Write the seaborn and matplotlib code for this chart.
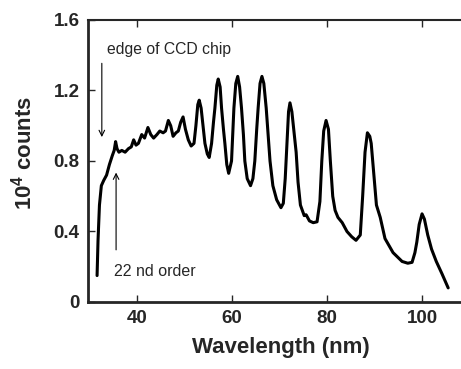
import numpy as np
import pandas as pd
import matplotlib
matplotlib.use("Agg")
import matplotlib.pyplot as plt
import seaborn as sns

# traced spectrum (wavelength in nm, counts in units of 10^4)
wavelength = [
    31.6, 31.8, 32.1, 32.5, 33.0, 33.6, 34.2, 34.8, 35.2, 35.5, 35.8, 36.2,
    36.8, 37.5, 38.2, 38.8, 39.3, 39.8, 40.3, 41.0, 41.6, 42.3, 42.9, 43.5,
    44.2, 44.8, 45.5, 46.0, 46.6, 47.1, 47.6, 48.2, 48.7, 49.2, 49.7, 50.2,
    50.8, 51.4, 52.0, 52.4, 52.8, 53.1, 53.5, 53.9, 54.3, 54.8, 55.2, 55.7,
    56.1, 56.4, 56.8, 57.1, 57.5, 57.8, 58.2, 58.5, 58.9, 59.3, 59.9, 60.4,
    60.8, 61.2, 61.6, 62.0, 62.4, 62.7, 63.2, 63.9, 64.4, 64.8, 65.2, 65.5,
    65.9, 66.3, 66.7, 67.2, 67.6, 68.0, 68.6, 69.4, 70.3, 70.8, 71.2, 71.6,
    71.9, 72.2, 72.6, 73.0, 73.5, 73.9, 74.4, 75.2, 75.6, 76.3, 77.1, 77.9,
    78.5, 78.9, 79.3, 79.8, 80.3, 80.7, 81.2, 81.7, 82.3, 83.2, 84.2, 85.2,
    86.1, 87.0, 87.5, 88.0, 88.5, 89.0, 89.3, 89.8, 90.4, 91.2, 92.2, 93.9,
    95.8, 97.0, 97.9, 98.5, 98.9, 99.4, 100.0, 100.5, 101.2, 102.0, 103.0,
    104.2, 105.5,
]
counts = [
    0.15, 0.35, 0.55, 0.66, 0.69, 0.72, 0.78, 0.83, 0.86, 0.91, 0.87, 0.85,
    0.86, 0.85, 0.87, 0.88, 0.92, 0.89, 0.90, 0.95, 0.93, 0.99, 0.95, 0.93,
    0.95, 0.97, 0.96, 0.97, 1.03, 1.00, 0.94, 0.96, 0.97, 1.02, 1.05, 0.98,
    0.92, 0.885, 0.90, 1.00, 1.12, 1.145, 1.10, 1.00, 0.90, 0.84, 0.82, 0.90,
    1.02, 1.10, 1.23, 1.265, 1.22, 1.10, 0.98, 0.90, 0.78, 0.73, 0.80, 1.10,
    1.24, 1.28, 1.22, 1.10, 0.95, 0.80, 0.70, 0.66, 0.70, 0.80, 0.98, 1.10,
    1.24, 1.28, 1.24, 1.10, 0.95, 0.80, 0.66, 0.58, 0.535, 0.56, 0.70, 0.92,
    1.08, 1.13, 1.08, 0.98, 0.85, 0.68, 0.55, 0.49, 0.495, 0.46, 0.45, 0.455,
    0.57, 0.80, 0.97, 1.03, 0.98, 0.80, 0.60, 0.52, 0.48, 0.45, 0.40, 0.37,
    0.35, 0.38, 0.60, 0.85, 0.96, 0.94, 0.90, 0.74, 0.55, 0.48, 0.36, 0.28,
    0.23, 0.22, 0.225, 0.28, 0.34, 0.44, 0.50, 0.47, 0.38, 0.30, 0.23,
    0.16, 0.08,
]

x_ticks = [40, 60, 80, 100]
y_ticks = [0, 0.4, 0.8, 1.2, 1.6]
y_tick_labels = ["0", "0.4", "0.8", "1.2", "1.6"]

df = pd.DataFrame({"wavelength": wavelength, "counts": counts})

sns.set_style("ticks")
plt.rcParams["font.family"] = ["Liberation Sans", "DejaVu Sans"]
plt.rcParams["mathtext.fontset"] = "custom"
plt.rcParams["mathtext.rm"] = "Liberation Sans"
plt.rcParams["mathtext.bf"] = "Liberation Sans:bold"

fig = plt.figure(figsize=(4.61, 3.69), dpi=100)
ax = fig.add_axes([0.191, 0.1816, 0.809, 0.7642])

sns.lineplot(data=df, x="wavelength", y="counts", ax=ax, color="black",
             linewidth=2.2, sort=False)

ax.set_xlim(29.7, 108.2)
ax.set_ylim(0, 1.6)
ax.set_xticks(x_ticks)
ax.set_yticks(y_ticks)
ax.set_yticklabels(y_tick_labels)
ax.tick_params(direction="in", length=5, width=1, top=True, right=False,
               labelsize=13.5, pad=6)
for lab in ax.get_xticklabels() + ax.get_yticklabels():
    lab.set_fontweight("bold")

ax.spines["right"].set_visible(False)
ax.spines["left"].set_linewidth(2)
ax.spines["bottom"].set_linewidth(2)
ax.spines["top"].set_linewidth(1.5)

ax.set_xlabel("Wavelength (nm)", fontsize=16, fontweight="bold")
ax.set_ylabel(r"$\mathbf{10^{4}}$ counts", fontsize=16, fontweight="bold")
ax.xaxis.set_label_coords(0.517, -0.125)
ax.yaxis.set_label_coords(-0.137, 0.53)

# annotations
ax.annotate("", xy=(32.6, 0.92), xytext=(32.6, 1.37),
            arrowprops=dict(arrowstyle="->", color="black", lw=0.8))
ax.text(33.6, 1.43, "edge of CCD chip", fontsize=11.3, va="center", ha="left")
ax.annotate("", xy=(35.6, 0.75), xytext=(35.6, 0.28),
            arrowprops=dict(arrowstyle="->", color="black", lw=0.8))
ax.text(35.2, 0.175, "22 nd order", fontsize=11.5, va="center", ha="left")

fig.savefig("out.png", dpi=100)
